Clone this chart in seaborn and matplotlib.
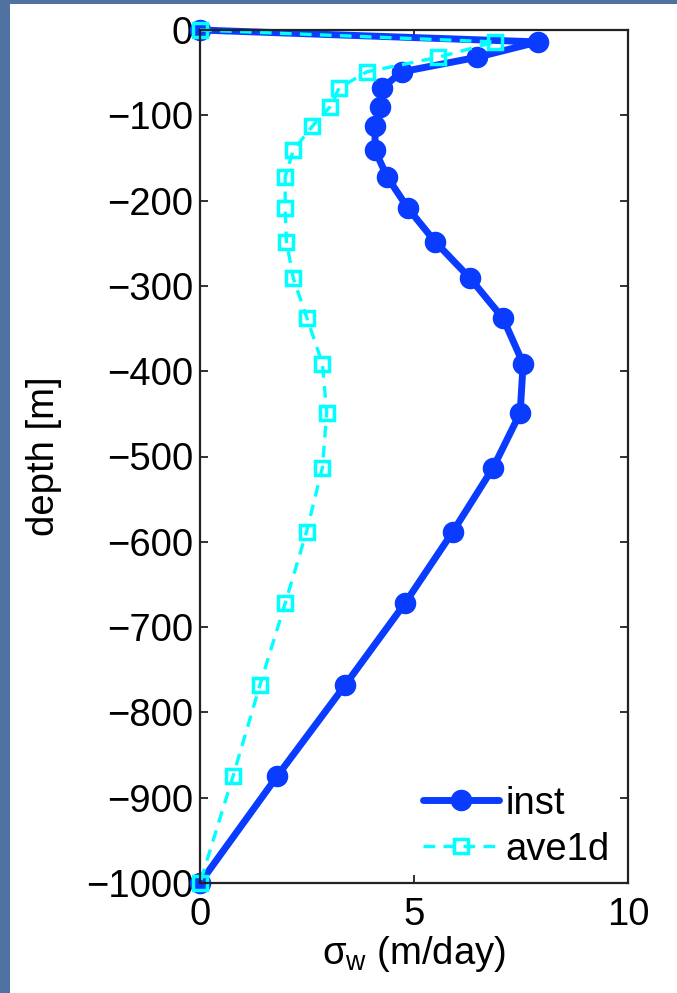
import matplotlib
matplotlib.use("Agg")
import matplotlib.pyplot as plt
import seaborn as sns
import pandas as pd
from matplotlib.patches import Rectangle

# Model level depths (m) and vertical-velocity standard deviation (m/day)
depth = [0, -14, -32, -49, -68, -90, -113, -141, -172, -209, -248, -291,
         -338, -391, -449, -513, -588, -672, -768, -875, -1000]
sigma_inst = [0, 7.9, 6.47, 4.72, 4.25, 4.2, 4.09, 4.09, 4.37, 4.86, 5.49,
              6.31, 7.08, 7.55, 7.48, 6.85, 5.91, 4.79, 3.39, 1.8, 0]
sigma_ave1d = [0, 6.9, 5.56, 3.9, 3.25, 3.04, 2.62, 2.18, 1.99, 1.99, 2.02,
               2.18, 2.5, 2.86, 2.96, 2.86, 2.49, 1.99, 1.4, 0.77, 0]
series_names = ["inst", "ave1d"]
x_ticks = [0, 5, 10]
y_ticks = list(range(-1000, 1, 100))

FS = 27.5

sns.set_style("ticks")
plt.rcParams["font.family"] = ["Liberation Sans", "DejaVu Sans"]
plt.rcParams["mathtext.fontset"] = "custom"
plt.rcParams["mathtext.rm"] = "Liberation Sans"
plt.rcParams["mathtext.it"] = "Liberation Sans"
plt.rcParams["axes.unicode_minus"] = True
plt.rcParams["text.color"] = "black"
plt.rcParams["axes.labelcolor"] = "black"

W, H = 677, 993
fig = plt.figure(figsize=(W / 100, H / 100), dpi=100, facecolor="#4f72a0")
# white page area behind the plot
fig.patches.append(Rectangle((10 / W, 0), 1 - 10 / W, 1 - 4 / H,
                             transform=fig.transFigure, facecolor="white",
                             edgecolor="none", zorder=-10))
ax = fig.add_axes([200 / W, 1 - 883 / H, 428 / W, 853 / H])
ax.set_facecolor("white")

df_inst = pd.DataFrame({"sigma": sigma_inst, "depth": depth})
df_ave = pd.DataFrame({"sigma": sigma_ave1d, "depth": depth})

sns.lineplot(data=df_inst, x="sigma", y="depth", sort=False, estimator=None,
             ax=ax, color="#0a3cff", lw=5, marker="o", markersize=14.5,
             markeredgecolor="#0a3cff", markerfacecolor="#0a3cff",
             markeredgewidth=1, label=series_names[0], clip_on=False)
sns.lineplot(data=df_ave, x="sigma", y="depth", sort=False, estimator=None,
             ax=ax, color="#00ffff", lw=2.4, linestyle=(0, (3.5, 2.5)),
             marker="s", markersize=10, markeredgecolor="#00ffff",
             markerfacecolor="none", markeredgewidth=2.5,
             label=series_names[1], clip_on=False)

ax.set_xlim(0, 10)
ax.set_ylim(-1000, 0)
ax.set_xticks(x_ticks)
ax.set_yticks(y_ticks)
ax.tick_params(axis="both", direction="in", length=6, width=1.3,
               colors="#222222", labelcolor="black", labelsize=FS,
               top=True, right=True)
ax.tick_params(axis="x", pad=10)
ax.tick_params(axis="y", pad=5)
for s in ax.spines.values():
    s.set_visible(True)
    s.set_linewidth(1.6)
    s.set_color("#222222")

ax.set_xlabel(r"$\sigma_{\mathrm{w}}$ (m/day)", fontsize=FS, labelpad=1)
ax.set_ylabel("depth [m]", fontsize=FS)
ax.yaxis.set_label_coords(-0.323, 0.5)

leg = ax.legend(loc="lower right", frameon=False, fontsize=FS,
                handlelength=2.0, handletextpad=0.18, labelspacing=0.26,
                borderaxespad=0, borderpad=0,
                bbox_to_anchor=(0.958, 0.018))
for t in leg.get_texts():
    t.set_color("black")

fig.savefig("out.png", dpi=100, facecolor=fig.get_facecolor())
